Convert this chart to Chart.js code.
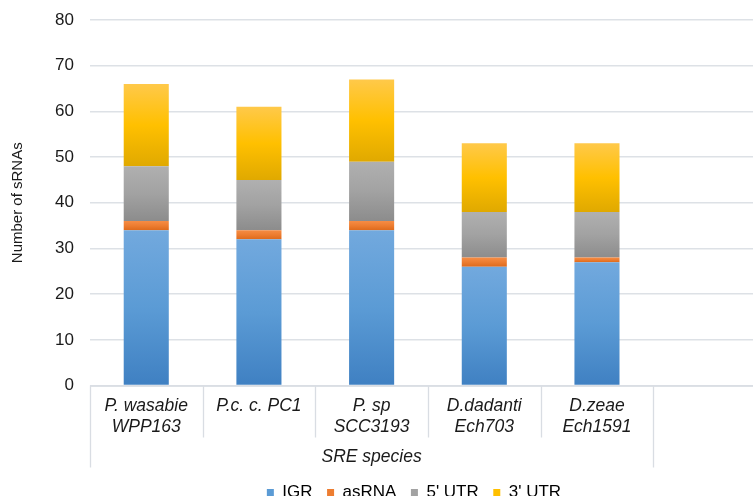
<!DOCTYPE html>
<html>
<head>
<meta charset="utf-8">
<script src="https://cdn.jsdelivr.net/npm/chart.js@4/dist/chart.umd.min.js"></script>
<style>
  html, body { margin: 0; padding: 0; background: #ffffff; overflow: hidden; }
  #wrap { width: 828px; height: 496px; }
</style>
</head>
<body>
<div id="wrap"><canvas id="c" width="828" height="496"></canvas></div>
<script>
// Species on the category axis (the last slot is left empty)
const categories = [
  ['P. wasabie', 'WPP163'],
  ['P.c. c. PC1'],
  ['P. sp', 'SCC3193'],
  ['D.dadanti', 'Ech703'],
  ['D.zeae', 'Ech1591'],
  ''
];
const groupLabel = 'SRE species';
const groupSize = 5;

// sRNA counts per class
const igr    = [34, 32, 34, 26, 27, null];
const asRNA  = [2, 2, 2, 2, 1, null];
const utr5   = [12, 11, 13, 10, 10, null];
const utr3   = [18, 16, 18, 15, 15, null];

const yTicks = { min: 0, max: 80, step: 10 };

const FONT = "'Liberation Sans', Arial, Helvetica, sans-serif";
const series = [igr, asRNA, utr5, utr3];

// vertical gradient stops for each class (top, middle, bottom)
const shades = [
  ['#72a9de', '#5b9bd5', '#3f80c2'],
  ['#f68c44', '#ed7d31', '#de6a1c'],
  ['#b0b0b0', '#a2a2a2', '#8c8c8c'],
  ['#ffc94a', '#ffc000', '#e0a900']
];

function segmentFill(seriesIndex) {
  return function (ctx) {
    const chart = ctx.chart;
    const y = chart.scales.y;
    if (!y || ctx.type !== 'data') return shades[seriesIndex][1];
    const i = ctx.dataIndex;
    let base = 0;
    for (let s = 0; s < seriesIndex; s++) base += series[s][i] || 0;
    const top = base + (series[seriesIndex][i] || 0);
    const y0 = y.getPixelForValue(top);
    const y1 = y.getPixelForValue(base);
    if (!isFinite(y0) || !isFinite(y1) || y0 === y1) return shades[seriesIndex][1];
    const g = chart.ctx.createLinearGradient(0, y0, 0, y1);
    g.addColorStop(0, shades[seriesIndex][0]);
    g.addColorStop(0.5, shades[seriesIndex][1]);
    g.addColorStop(1, shades[seriesIndex][2]);
    return g;
  };
}

// Category separators and the grouped label under the axis
const categoryFrame = {
  id: 'categoryFrame',
  afterLayout(chart) {
    // centre the legend on the whole canvas
    if (chart.legend) {
      chart.legend.left = 0;
      chart.legend.right = chart.width;
    }
  },
  afterDraw(chart) {
    const x = chart.scales.x;
    const area = chart.chartArea;
    const c = chart.ctx;
    const n = categories.length;
    const w = (x.getPixelForValue(1) - x.getPixelForValue(0));
    const edge = i => x.getPixelForValue(i) - w / 2;
    c.save();
    c.strokeStyle = '#d9dde3';
    c.lineWidth = 1.3;
    c.beginPath();
    c.moveTo(area.left, area.bottom + 0.5);
    c.lineTo(area.right, area.bottom + 0.5);
    for (let i = 0; i <= n; i++) {
      const px = Math.round(edge(i)) + 0.5;
      const len = (i === 0 || i === groupSize) ? 82 : 52;
      c.moveTo(px, area.bottom);
      c.lineTo(px, area.bottom + len);
    }
    c.stroke();
    c.fillStyle = '#1a1a1a';
    c.font = 'italic 17.5px ' + FONT;
    c.textAlign = 'center';
    c.textBaseline = 'middle';
    c.fillText(groupLabel, (edge(0) + edge(groupSize)) / 2, area.bottom + 72);
    c.restore();
  }
};

const names = ['IGR', 'asRNA', "5' UTR", "3' UTR"];
const datasets = series.map((d, k) => ({
  label: names[k],
  data: d,
  backgroundColor: segmentFill(k),
  borderWidth: 0,
  barPercentage: 0.4,
  categoryPercentage: 1.0,
  stack: 's'
}));

new Chart(document.getElementById('c'), {
  type: 'bar',
  data: { labels: categories, datasets },
  plugins: [categoryFrame],
  options: {
    responsive: false,
    animation: false,
    layout: { padding: { top: 20, right: 62, left: 9, bottom: -15 } },
    plugins: {
      tooltip: { enabled: false },
      legend: {
        position: 'bottom',
        labels: {
          font: { family: FONT, size: 17 },
          color: '#1a1a1a',
          boxWidth: 7,
          boxHeight: 7,
          padding: 14.5,
          generateLabels(chart) {
            return chart.data.datasets.map((ds, i) => ({
              text: ds.label,
              fillStyle: shades[i][1],
              strokeStyle: shades[i][1],
              lineWidth: 0,
              datasetIndex: i,
              hidden: false
            }));
          }
        }
      }
    },
    scales: {
      x: {
        stacked: true,
        grid: { display: false },
        border: { display: false },
        ticks: {
          font: { family: FONT, size: 17.5, style: 'italic' },
          color: '#1a1a1a',
          padding: 2,
          maxRotation: 0,
          autoSkip: false
        },
        afterFit(scale) { scale.height = 84; }
      },
      y: {
        stacked: true,
        min: yTicks.min,
        max: yTicks.max,
        border: { display: false },
        grid: { color: '#dde1e6', lineWidth: 1.5, drawTicks: true, tickLength: 16, tickColor: 'rgba(0,0,0,0)' },
        ticks: {
          stepSize: yTicks.step,
          font: { family: FONT, size: 17 },
          color: '#1a1a1a',
          padding: 0
        },
        title: {
          display: true,
          text: 'Number of sRNAs',
          font: { family: FONT, size: 15 },
          color: '#1a1a1a',
          padding: { top: 0, bottom: 28 }
        }
      }
    }
  }
});
</script>
</body>
</html>
